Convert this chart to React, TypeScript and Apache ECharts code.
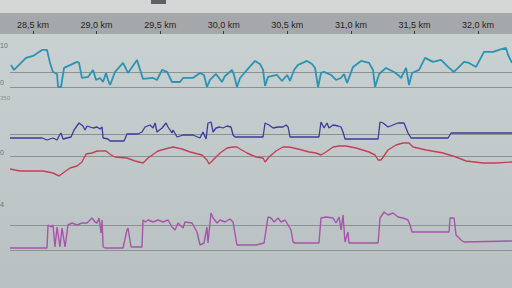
import React, { useEffect, useRef } from "react";
import * as echarts from "echarts";

const xMin = 28.319;
const xMax = 32.267;
const kmTicks = [28.5, 29.0, 29.5, 30.0, 30.5, 31.0, 31.5, 32.0];

// speed (km/h)
const speed: [number, number][] = [
  [28.327, 11.08], [28.351, 10.38], [28.445, 12.06], [28.5, 12.34], [28.571, 13.17], [28.61, 13.17], [28.634, 11.36], [28.657, 10.1], [28.689, 9.82], [28.697, 8.0], [28.72, 8.0], [28.744, 10.66], [28.846, 11.5], [28.862, 11.36], [28.885, 9.26], [28.933, 9.4], [28.972, 10.38], [28.996, 8.98], [29.027, 9.26], [29.051, 8.7], [29.074, 9.96], [29.09, 8.98], [29.106, 8.28], [29.145, 10.1], [29.208, 11.36], [29.247, 9.96], [29.318, 11.78], [29.365, 9.12], [29.444, 9.26], [29.475, 8.98], [29.515, 10.38], [29.554, 10.1], [29.593, 8.7], [29.656, 8.7], [29.68, 9.26], [29.758, 9.26], [29.813, 9.96], [29.845, 9.68], [29.868, 8.0], [29.892, 8.98], [29.939, 9.82], [29.986, 8.7], [30.01, 9.54], [30.065, 10.38], [30.081, 9.68], [30.104, 8.0], [30.128, 9.26], [30.183, 10.38], [30.246, 11.64], [30.285, 11.22], [30.309, 10.38], [30.325, 8.14], [30.348, 9.4], [30.419, 9.68], [30.458, 8.84], [30.498, 9.68], [30.521, 8.84], [30.553, 10.38], [30.584, 11.08], [30.655, 11.64], [30.694, 11.22], [30.718, 10.66], [30.742, 8.0], [30.765, 9.96], [30.789, 10.1], [30.844, 9.68], [30.883, 8.98], [30.922, 9.26], [30.946, 9.82], [30.97, 8.56], [31.017, 10.8], [31.08, 11.64], [31.143, 11.36], [31.174, 10.38], [31.19, 8.0], [31.222, 9.82], [31.276, 10.66], [31.339, 10.1], [31.371, 9.68], [31.394, 9.26], [31.434, 10.66], [31.457, 8.28], [31.481, 9.96], [31.536, 10.38], [31.583, 12.06], [31.646, 11.5], [31.709, 11.78], [31.764, 10.8], [31.811, 10.1], [31.89, 11.5], [31.929, 11.36], [31.984, 10.8], [32.047, 12.9], [32.118, 12.9], [32.165, 13.17], [32.22, 13.45], [32.236, 12.48], [32.267, 11.36],
];

// heart rate style series
const pulse: [number, number][] = [
  [28.319, 130], [28.571, 130], [28.61, 120], [28.657, 130], [28.689, 120], [28.705, 140], [28.72, 155], [28.736, 125], [28.767, 130], [28.799, 135], [28.823, 170], [28.862, 205], [28.893, 190], [28.909, 170], [28.925, 190], [28.972, 180], [29.004, 185], [29.027, 175], [29.043, 185], [29.051, 130], [29.09, 125], [29.106, 115], [29.216, 115], [29.239, 150], [29.326, 150], [29.357, 160], [29.381, 185], [29.42, 195], [29.444, 180], [29.46, 205], [29.475, 160], [29.515, 180], [29.546, 205], [29.562, 185], [29.593, 155], [29.601, 170], [29.633, 135], [29.68, 145], [29.758, 145], [29.813, 130], [29.837, 160], [29.861, 125], [29.876, 205], [29.9, 210], [29.916, 160], [29.939, 180], [29.971, 185], [29.994, 180], [30.026, 190], [30.057, 185], [30.073, 145], [30.089, 135], [30.309, 135], [30.325, 205], [30.356, 195], [30.388, 180], [30.427, 185], [30.466, 185], [30.49, 195], [30.506, 185], [30.521, 135], [30.749, 135], [30.765, 210], [30.789, 180], [30.812, 205], [30.828, 180], [30.86, 195], [30.899, 190], [30.922, 185], [30.938, 160], [30.954, 125], [31.214, 125], [31.229, 210], [31.253, 205], [31.292, 185], [31.331, 195], [31.371, 205], [31.418, 205], [31.449, 155], [31.473, 130], [31.764, 130], [31.788, 155], [32.267, 155],
];

// elevation (m)
const elevation: [number, number][] = [
  [28.319, 7], [28.398, 5], [28.579, 5], [28.657, 3], [28.705, 0], [28.736, 3], [28.791, 8], [28.846, 10], [28.885, 14], [28.917, 22], [28.964, 23], [29.004, 25], [29.074, 25], [29.114, 21], [29.145, 19], [29.239, 18], [29.302, 15], [29.365, 13], [29.405, 18], [29.46, 23], [29.483, 25], [29.538, 27], [29.601, 29], [29.672, 27], [29.735, 24], [29.829, 21], [29.868, 16], [29.884, 12], [29.916, 16], [29.971, 23], [30.026, 28], [30.073, 29], [30.104, 29], [30.128, 27], [30.183, 23], [30.254, 19], [30.309, 18], [30.325, 14], [30.356, 19], [30.411, 25], [30.466, 29], [30.513, 29], [30.584, 27], [30.671, 24], [30.726, 23], [30.765, 21], [30.804, 24], [30.86, 29], [30.907, 30], [30.962, 30], [31.04, 28], [31.143, 24], [31.19, 21], [31.214, 16], [31.237, 16], [31.292, 26], [31.355, 31], [31.41, 33], [31.457, 33], [31.489, 29], [31.591, 26], [31.725, 23], [31.827, 19], [31.906, 15], [32.039, 13], [32.142, 13], [32.267, 14],
];

// power / cadence
const power: [number, number][] = [
  [28.319, 8], [28.61, 8], [28.618, 100], [28.642, 92], [28.657, 100], [28.673, 12], [28.689, 92], [28.712, 12], [28.728, 88], [28.752, 12], [28.775, 100], [28.807, 108], [28.846, 100], [28.885, 108], [28.925, 108], [28.964, 128], [28.988, 112], [29.004, 108], [29.019, 128], [29.035, 68], [29.043, 120], [29.051, 12], [29.066, 8], [29.208, 8], [29.239, 80], [29.247, 88], [29.271, 12], [29.357, 12], [29.365, 120], [29.381, 112], [29.405, 120], [29.444, 112], [29.483, 120], [29.523, 112], [29.562, 120], [29.593, 92], [29.617, 80], [29.64, 108], [29.68, 88], [29.695, 112], [29.75, 108], [29.79, 72], [29.813, 20], [29.845, 28], [29.868, 92], [29.876, 28], [29.9, 148], [29.916, 128], [29.947, 108], [29.971, 120], [30.01, 112], [30.049, 124], [30.073, 112], [30.104, 20], [30.254, 20], [30.317, 28], [30.348, 132], [30.372, 128], [30.396, 112], [30.427, 128], [30.45, 112], [30.482, 120], [30.506, 100], [30.529, 80], [30.545, 32], [30.561, 28], [30.749, 28], [30.765, 128], [30.804, 132], [30.86, 128], [30.883, 108], [30.907, 132], [30.922, 80], [30.938, 140], [30.954, 32], [30.977, 72], [30.985, 28], [31.214, 28], [31.229, 128], [31.261, 152], [31.292, 140], [31.331, 148], [31.371, 132], [31.41, 128], [31.449, 120], [31.465, 100], [31.481, 72], [31.772, 72], [31.78, 128], [31.811, 128], [31.827, 60], [31.866, 40], [31.89, 32], [32.267, 36],
];

const gridColor = "#8a9292";

function mkLine(idx: number, data: [number, number][], color: string, width: number, marks: number[]) {
  return {
    type: "line",
    xAxisIndex: idx,
    yAxisIndex: idx,
    data,
    showSymbol: false,
    symbol: "none",
    clip: false,
    lineStyle: { color, width },
    z: 3,
    markLine: {
      silent: true,
      symbol: "none",
      label: { show: false },
      lineStyle: { color: gridColor, width: 1, type: "solid" },
      data: marks.map((v) => ({ yAxis: v })),
      z: 2,
    },
  };
}

const sideFont = "Liberation Sans, Arial, sans-serif";
function sideText(text: string, y: number, fill: string, size: number) {
  return { type: "text", z: 50, x: 0, y, style: { text, fill, fontSize: size, align: "left", verticalAlign: "middle", fontFamily: sideFont } };
}

export default function App() {
  const ref = useRef<HTMLDivElement>(null);
  useEffect(() => {
    document.body.style.margin = "0";
    const chart = echarts.init(ref.current!, null, { renderer: "svg" });
    const hiddenX = (i: number) => ({ gridIndex: i, type: "value", min: xMin, max: xMax, show: false });
    const option: any = {
      animation: false,
      backgroundColor: "transparent",
      grid: [
        { left: 10, right: 0, top: 44, height: 43 },
        { left: 10, right: 0, top: 94, height: 40 },
        { left: 10, right: 0, top: 136, height: 40 },
        { left: 10, right: 0, top: 200, height: 50 },
      ],
      xAxis: [
        {
          gridIndex: 0,
          type: "value",
          min: xMin,
          max: xMax,
          position: "top",
          offset: 10,
          axisLine: { show: false },
          axisTick: { show: true, customValues: kmTicks, length: 3, lineStyle: { color: "#3a3d3f", width: 1 } },
          axisLabel: {
            customValues: kmTicks,
            formatter: (v: number) => v.toFixed(1).replace(".", ",") + " km",
            margin: 5,
            fontSize: 9,
            color: "#1f2325",
            fontFamily: sideFont,
          },
          splitLine: { show: false },
        },
        hiddenX(1),
        hiddenX(2),
        hiddenX(3),
      ],
      yAxis: [
        { gridIndex: 0, type: "value", min: 8, max: 14, show: false },
        { gridIndex: 1, type: "value", min: 150, max: 350, show: false },
        { gridIndex: 2, type: "value", min: 0, max: 40, show: false },
        { gridIndex: 3, type: "value", min: 0, max: 200, show: false },
      ],
      series: [
        mkLine(0, speed, "#2b93b4", 1.8, [8, 10]),
        mkLine(1, pulse, "#3b3c9c", 1.3, [150]),
        mkLine(2, elevation, "#c4405a", 1.4, [20]),
        mkLine(3, power, "#a854aa", 1.4, [0, 100]),
      ],
      graphic: {
        elements: [
          {
            type: "rect",
            z: -100,
            shape: { x: 0, y: 0, width: 512, height: 288 },
            style: {
              fill: {
                type: "linear", x: 0, y: 0, x2: 0, y2: 1,
                colorStops: [
                  { offset: 0, color: "#ccd3d3" },
                  { offset: 1, color: "#b8c0c1" },
                ],
              },
            },
          },
          { type: "rect", z: -99, shape: { x: 0, y: 0, width: 512, height: 13 }, style: { fill: "#d4d7d6" } },
          { type: "rect", z: -99, shape: { x: 0, y: 13, width: 512, height: 21 }, style: { fill: "#a5a8aa" } },
          { type: "rect", z: -98, shape: { x: 151, y: 0, width: 15, height: 4 }, style: { fill: "#5e6264" } },
          sideText("10", 45, "#6a7272", 7),
          sideText("0", 82, "#6a7272", 7),
          sideText("350", 98, "#8a9292", 6),
          sideText("0", 152, "#6a7272", 7),
          sideText("4", 204, "#6a7272", 7),
        ],
      },
    };
    chart.setOption(option);
    return () => chart.dispose();
  }, []);
  return <div ref={ref} style={{ width: 512, height: 288 }} />;
}
